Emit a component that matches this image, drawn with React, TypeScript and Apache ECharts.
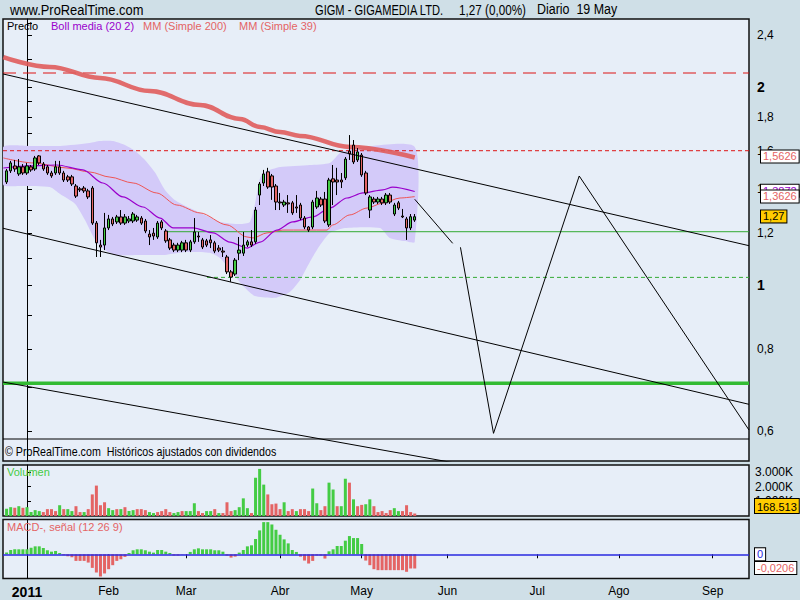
import React, { useEffect, useRef } from 'react';
import * as echarts from 'echarts';

// ---------- DATA ----------
const FIRST_INDEX = -5; // 27 Dec 2010, index 0 = 3 Jan 2011 (trading days)
// [open, close, low, high]
const candles: number[][] = [
  [1.434,1.491,1.424,1.501],[1.491,1.533,1.480,1.544],[1.517,1.501,1.486,1.549],[1.475,1.512,1.465,1.554],[1.512,1.480,1.470,1.527],
  [1.480,1.517,1.470,1.533],[1.512,1.496,1.486,1.522],[1.501,1.560,1.491,1.571],[1.571,1.533,1.522,1.576],[1.527,1.501,1.491,1.538],
  [1.512,1.480,1.470,1.522],[1.480,1.465,1.455,1.491],[1.480,1.512,1.470,1.544],[1.512,1.480,1.470,1.544],[1.480,1.444,1.434,1.491],
  [1.460,1.444,1.434,1.470],[1.460,1.424,1.414,1.470],[1.414,1.365,1.356,1.424],[1.400,1.395,1.385,1.409],[1.404,1.390,1.380,1.414],
  [1.390,1.361,1.351,1.400],[1.404,1.242,1.234,1.414],[1.242,1.159,1.103,1.251],[1.150,1.142,1.103,1.171],[1.150,1.221,1.130,1.287],
  [1.221,1.260,1.212,1.278],[1.260,1.238,1.229,1.269],[1.247,1.269,1.238,1.278],[1.269,1.242,1.234,1.300],[1.242,1.269,1.234,1.282],
  [1.251,1.260,1.242,1.273],[1.251,1.282,1.242,1.291],[1.255,1.269,1.247,1.278],[1.264,1.242,1.234,1.273],[1.251,1.208,1.199,1.260],
  [1.195,1.183,1.150,1.212],[1.199,1.187,1.171,1.221],[1.183,1.242,1.175,1.251],[1.247,1.221,1.212,1.255],[1.208,1.167,1.159,1.216],
  [1.171,1.138,1.130,1.179],[1.150,1.130,1.122,1.159],[1.130,1.150,1.122,1.159],[1.130,1.159,1.122,1.167],[1.159,1.130,1.122,1.171],
  [1.130,1.163,1.122,1.171],[1.163,1.204,1.155,1.264],[1.187,1.183,1.163,1.204],[1.171,1.142,1.134,1.179],[1.167,1.150,1.142,1.175],
  [1.171,1.159,1.138,1.191],[1.159,1.126,1.118,1.167],[1.138,1.130,1.122,1.150],[1.126,1.122,1.103,1.142],[1.103,1.047,1.039,1.111],
  [1.047,1.028,1.011,1.054],[1.039,1.091,1.032,1.099],[1.118,1.130,1.091,1.183],[1.118,1.150,1.107,1.204],[1.150,1.163,1.142,1.171],
  [1.163,1.150,1.142,1.212],[1.163,1.300,1.155,1.314],[1.370,1.424,1.323,1.434],[1.429,1.475,1.414,1.496],[1.486,1.409,1.400,1.507],
  [1.465,1.409,1.347,1.475],[1.414,1.337,1.300,1.424],[1.337,1.333,1.300,1.380],[1.323,1.337,1.314,1.347],[1.333,1.328,1.287,1.370],
  [1.333,1.287,1.278,1.342],[1.314,1.309,1.287,1.370],[1.323,1.264,1.255,1.333],[1.264,1.225,1.216,1.273],[1.225,1.212,1.204,1.229],
  [1.225,1.337,1.216,1.347],[1.314,1.356,1.305,1.390],[1.351,1.323,1.314,1.361],[1.351,1.251,1.242,1.385],[1.234,1.444,1.225,1.455],
  [1.450,1.434,1.323,1.522],[1.444,1.434,1.370,1.507],[1.444,1.434,1.404,1.480],[1.455,1.554,1.444,1.565],[1.598,1.582,1.549,1.690],
  [1.632,1.538,1.527,1.661],[1.549,1.593,1.538,1.615],[1.576,1.470,1.460,1.587],[1.480,1.380,1.370,1.491],[1.300,1.361,1.264,1.370],
  [1.351,1.337,1.328,1.361],[1.337,1.351,1.328,1.361],[1.351,1.333,1.323,1.361],[1.333,1.370,1.323,1.380],[1.370,1.337,1.328,1.380],
  [1.282,1.323,1.273,1.333],[1.333,1.309,1.300,1.342],[1.273,1.269,1.264,1.305],[1.260,1.221,1.171,1.269],[1.221,1.270,1.212,1.282],
  [1.255,1.270,1.247,1.282],
];

// volume in thousands
const volumes: number[] = [
  489,600,556,667,556,600,267,400,333,267,467,467,333,733,467,467,333,667,267,267,
  467,1467,2067,733,933,533,400,467,467,600,333,400,467,467,400,267,200,267,333,467,
  267,200,267,333,333,333,867,333,200,333,333,467,200,200,933,333,400,600,1200,533,
  200,2600,3200,2133,1467,800,844,467,933,333,467,333,467,467,333,1867,867,400,667,2267,
  1800,667,667,2533,2267,1133,667,756,800,1133,667,267,333,200,400,533,333,333,733,267,
  168.513,
];
const volumeColors = 'ggrgrggggrrrrgrggrrgrrrrrggrgrggrrrggrrrrggrgggrrggrgrrrggggrgggrrrrgrrgrrrggrrggrggrgrrggrrrrrgg';

const macdHist: number[] = [
  0.0024,0.0062,0.0072,0.0072,0.0072,0.0072,0.0096,0.0115,0.0115,0.0091,0.0058,0.0038,0.0048,0.0019,-0.0014,-0.0029,-0.0043,-0.0096,-0.0096,-0.0096,
  -0.012,-0.0197,-0.0264,-0.0322,-0.0278,-0.0216,-0.0158,-0.0096,-0.0072,-0.0038,0.0019,0.0058,0.0072,0.0072,0.0058,0.0038,0.0024,0.0062,0.0062,0.0038,
  0.0019,-0.0019,-0.0019,-0.0005,-0.0005,0.0034,0.0072,0.0086,0.0072,0.0072,0.0072,0.0058,0.0058,0.0038,-0.0019,-0.0048,-0.0034,0.0024,0.0062,0.0115,
  0.013,0.0221,0.0346,0.0466,0.0466,0.0432,0.0355,0.0283,0.0216,0.0158,0.0062,0.0034,-0.0034,-0.0091,-0.0134,-0.0096,-0.0019,-0.0019,-0.0062,0.0043,
  0.0072,0.012,0.012,0.0197,0.0264,0.0235,0.0235,0.0149,-0.0091,-0.0158,-0.0216,-0.023,-0.023,-0.023,-0.023,-0.023,-0.023,-0.023,-0.0254,-0.0206,
  -0.0206,
];

// indicator lines as [tradingDayIndex, price]
const upperBand: number[][] = [
  [-5.8,1.621],[0.7,1.627],[8.1,1.627],[15.4,1.644],[17.9,1.655],[21.1,1.655],[24,1.632],[26.5,1.598],[28.9,1.549],[31.3,1.485],
  [33.8,1.395],[36.2,1.347],[39.9,1.309],[44.1,1.273],[47.3,1.247],[52.2,1.238],[54.6,1.247],[55.8,1.323],[57.1,1.454],[58.3,1.485],
  [62,1.511],[69.3,1.522],[74.2,1.533],[76.7,1.587],[79.1,1.610],[95,1.621],
];
const lowerBand: number[][] = [
  [-5.8,1.419],[-1.7,1.414],[5.6,1.409],[8.1,1.375],[11.8,1.328],[14.2,1.255],[16.7,1.171],[19.1,1.130],[21.6,1.111],[27.7,1.111],
  [33.8,1.111],[38.7,1.122],[44.8,1.119],[47.3,1.099],[49.7,1.054],[53.4,0.990],[55.8,0.962],[60.7,0.956],[64.4,0.976],[66.9,1.018],
  [69.3,1.084],[71.8,1.150],[74.2,1.200],[77.9,1.221],[86.5,1.221],[88.9,1.179],[92.6,1.166],[95,1.162],
];
const bollMid: number[][] = [
  [-5.8,1.506],[0.7,1.517],[7.3,1.522],[13.7,1.496],[18.6,1.429],[23.5,1.361],[28.4,1.314],[32.6,1.264],[35.8,1.221],[40.7,1.221],
  [45.6,1.200],[49.7,1.162],[53.9,1.138],[57.1,1.162],[61.2,1.212],[65.1,1.247],[70,1.269],[74.2,1.309],[78.4,1.356],[82.3,1.380],
  [87.2,1.395],[89.6,1.409],[95,1.387],
];
const mm39: number[][] = [
  [-5.8,1.560],[1.5,1.533],[9.8,1.506],[15.4,1.485],[20.3,1.459],[26,1.429],[31.8,1.380],[36.7,1.323],[42.4,1.287],[49,1.234],
  [53.9,1.183],[55.4,1.179],[58.8,1.200],[62.7,1.212],[73.5,1.212],[74.9,1.234],[79.1,1.278],[83.3,1.309],[87.2,1.332],[91.4,1.356],
  [95,1.3626],
];
const mm200: number[][] = [
  [-5.8,2.221],[5.6,2.145],[17.9,2.064],[30.1,1.972],[42.4,1.878],[52.2,1.788],[57.1,1.738],[62,1.708],[66.9,1.685],[79.1,1.621],[95,1.5626],
];

// drawn objects (trend channel, projection, levels) as [tradingDayIndex, price]
const channelUpper = [[-5.88,2.093],[176.9,1.1475]];
const channelMiddle = [[-5.88,1.2196],[176.9,0.6586]];
const channelLower = [[-5.88,0.712],[176.9,0.446]];
const projectionA = [[95,1.350],[104.3,1.157]];
const projectionB = [[106.2,1.141],[114.3,0.595],[135.3,1.4645],[176.9,0.602]];
const levelRedLong = [[-5.88,2.1],[176.9,2.1]];
const levelRedDotted = [[-5.88,1.6],[176.9,1.6]];
const levelGreenSolid = [[33.8,1.205],[176.9,1.205]];
const levelGreenDashed = [[44.1,1.027],[176.9,1.027]];
const levelGreenThick = [[-5.88,0.709],[176.9,0.709]];

const monthTicks = [0,20,39,62,82,103,125,145,168];
const monthLabels = ['2011','Feb','Mar','Abr','May','Jun','Jul','Ago','Sep'];
const priceTicks = [2.5,2.4,2.2,2,1.9,1.8,1.7,1.6,1.5,1.4,1.3,1.2,1.1,1,0.9,0.8,0.7,0.6];
const priceLabels = [2.4,2,1.8,1.6,1.4,1.2,1,0.8,0.6];
const volumeTicks = [1000,2000,3000];

const lastValues = { mm200: 1.5626, boll: 1.3872, mm39: 1.3626, close: 1.27, volume: '168.513', macd: -0.0206 };

// ---------- CHART ----------
const X_MIN = -5.88;
const X_MAX = 176.9;
const L = Math.log;
const GREEN = '#44cc44';
const RED = '#e46464';
const PANEL = '#e7eef8';
const OUTER = '#cfdfe7';
const FONT = 'Liberation Sans, Arial, sans-serif';

function fmtComma(v: number, d: number) {
  return v.toFixed(d).replace('.', ',');
}

export default function App() {
  const ref = useRef<HTMLDivElement>(null);
  useEffect(() => {
    if (!ref.current) return;
    const chart = echarts.init(ref.current, undefined, { renderer: 'svg' });

    const lineS = (data: number[][], color: string, width: number, type: any = 'solid', z = 3, opacity = 1, smooth: any = false) => ({
      type: 'line', xAxisIndex: 0, yAxisIndex: 0, symbol: 'none', silent: true, clip: true, z, smooth,
      smoothMonotone: 'x',
      data: data.map(([x, p]) => [x, L(p)]),
      lineStyle: { color, width, type, opacity },
    });

    const boxLabel = (text: string, color: string, bg = '#ffffff', distance = 12) => ({
      show: true, position: 'end', distance, formatter: text, color,
      backgroundColor: bg, borderColor: '#000', borderWidth: 1, padding: [1, 2, 0, 2],
      fontSize: 11, fontFamily: FONT,
    });

    const txt = (x: number, y: number, text: string, fill: string, size: number, sx = 1) => ({
      type: 'text', x, y, scaleX: sx, z: 50,
      style: { text, fill, font: size + 'px ' + FONT, textVerticalAlign: 'top' },
    });

    const option: any = {
      animation: false,
      backgroundColor: OUTER,
      grid: [
        { left: 3, top: 19, width: 746, height: 442, show: true, backgroundColor: PANEL, borderColor: '#111', borderWidth: 1.5, outerBoundsMode: 'none' },
        { left: 3, top: 465, width: 746, height: 51, show: true, backgroundColor: PANEL, borderColor: '#111', borderWidth: 1.5, outerBoundsMode: 'none' },
        { left: 3, top: 519.5, width: 746, height: 59, show: true, backgroundColor: PANEL, borderColor: '#111', borderWidth: 1.5, outerBoundsMode: 'none' },
      ],
      xAxis: [0, 1, 2].map((g) => ({
        type: 'value', gridIndex: g, min: X_MIN, max: X_MAX,
        axisLine: { show: false }, splitLine: { show: false },
        axisTick: g === 2 ? { show: true, length: 4, lineStyle: { color: '#000' }, customValues: monthTicks } : { show: false },
        axisLabel: g === 2 ? {
          show: true, margin: 6, customValues: monthTicks, color: '#000', fontFamily: FONT, fontSize: 12,
          formatter: (v: number) => {
            const k = monthTicks.indexOf(Math.round(v));
            if (k < 0) return '';
            return k === 0 ? '{b|' + monthLabels[k] + '}' : monthLabels[k];
          },
          rich: { b: { fontWeight: 'bold', fontSize: 14, fontFamily: FONT, color: '#000' } },
        } : { show: false },
      })),
      yAxis: [
        {
          type: 'value', gridIndex: 0, position: 'right', min: L(0.5401), max: L(2.537),
          axisLine: { show: true, lineStyle: { color: '#000', width: 1 } },
          splitLine: { show: false },
          axisTick: { show: true, length: 5, customValues: priceTicks.map(L), lineStyle: { color: '#000' } },
          axisLabel: {
            show: true, margin: 8, customValues: priceLabels.map(L), color: '#000', fontSize: 12, fontFamily: FONT,
            formatter: (v: number) => {
              const p = Math.round(Math.exp(v) * 10) / 10;
              if (p === 2 || p === 1) return '{b|' + p + '}';
              return fmtComma(p, 1);
            },
            rich: { b: { fontWeight: 'bold', fontSize: 14, fontFamily: FONT, color: '#000' } },
          },
        },
        {
          type: 'value', gridIndex: 1, position: 'right', min: 0, max: 3466.7,
          axisLine: { show: true, lineStyle: { color: '#000' } }, splitLine: { show: false },
          axisTick: { show: true, length: 4, customValues: volumeTicks, lineStyle: { color: '#000' } },
          axisLabel: {
            show: true, margin: 6, customValues: volumeTicks, color: '#000', fontSize: 12, fontFamily: FONT,
            formatter: (v: number) => (v / 1000).toFixed(0) + '.000K',
          },
        },
        {
          type: 'value', gridIndex: 2, position: 'right', min: -0.0351, max: 0.0504,
          axisLine: { show: true, lineStyle: { color: '#000' } }, splitLine: { show: false },
          axisTick: { show: false }, axisLabel: { show: false },
        },
      ],
      series: [
        {
          type: 'custom', xAxisIndex: 0, yAxisIndex: 0, silent: true, clip: true, z: 1,
          data: [[0, 0]],
          renderItem: (params: any, api: any) => {
            const pts = upperBand.map((d) => api.coord([d[0], L(d[1])]))
              .concat(lowerBand.slice().reverse().map((d) => api.coord([d[0], L(d[1])])));
            return { type: 'polygon', shape: { points: pts, smooth: 0.2 }, style: { fill: '#d3caf9' } };
          },
        },
        lineS(levelRedLong, '#dd1515', 1, [13, 7], 2),
        lineS(levelRedDotted, '#dd1515', 1, [4, 3], 2),
        lineS(levelGreenSolid, '#33aa33', 1, 'solid', 2),
        lineS(levelGreenDashed, '#33aa33', 1, [4, 3], 2),
        lineS(levelGreenThick, '#33bb33', 3.5, 'solid', 2),
        lineS(mm200, '#e05c5c', 4.5, 'solid', 3, 0.9, 0.4),
        lineS(mm39, '#ee5555', 1, 'solid', 3, 1, 0.3),
        lineS(bollMid, '#9a00cc', 1.2, 'solid', 3, 1, 0.3),
        {
          type: 'candlestick', xAxisIndex: 0, yAxisIndex: 0, z: 4, barWidth: 3,
          encode: { x: 0, y: [1, 2, 3, 4] },
          data: candles.map((c, k) => [FIRST_INDEX + k, L(c[0]), L(c[1]), L(c[2]), L(c[3])]),
          itemStyle: { color: GREEN, color0: RED, borderColor: '#000', borderColor0: '#000', borderColorDoji: '#000', borderWidth: 1 },
          markLine: {
            symbol: ['none', 'none'], silent: true,
            lineStyle: { width: 0 },
            data: [
              { yAxis: L(lastValues.boll), label: boxLabel(fmtComma(lastValues.boll, 4), '#9a00cc') },
              { yAxis: L(lastValues.mm200), label: boxLabel(fmtComma(lastValues.mm200, 4), RED) },
              { yAxis: L(lastValues.mm39), label: boxLabel(fmtComma(lastValues.mm39, 4), RED) },
              { yAxis: L(lastValues.close), label: boxLabel(fmtComma(lastValues.close, 2), '#000', '#ffcc00') },
            ],
          },
        },
        lineS(channelUpper, '#000', 1, 'solid', 5),
        lineS(channelMiddle, '#000', 1, 'solid', 5),
        lineS(channelLower, '#000', 1, 'solid', 5),
        lineS(projectionA, '#000', 1, 'solid', 5),
        lineS(projectionB, '#000', 1, 'solid', 5),
        {
          type: 'bar', xAxisIndex: 1, yAxisIndex: 1, barWidth: 3, silent: true,
          data: volumes.map((v, k) => ({ value: [FIRST_INDEX + k, v], itemStyle: { color: volumeColors[k] === 'g' ? GREEN : RED } })),
        },
        {
          type: 'bar', xAxisIndex: 2, yAxisIndex: 2, barWidth: 3, silent: true,
          data: macdHist.map((v, k) => ({ value: [FIRST_INDEX + k, v], itemStyle: { color: v >= 0 ? GREEN : RED } })),
          markLine: {
            symbol: ['none', 'none'], silent: true,
            data: [
              { yAxis: 0, lineStyle: { color: '#2828e0', width: 1.5, type: 'solid' }, label: boxLabel('0', '#2828e0', '#ffffff', 6) },
              { yAxis: lastValues.macd, lineStyle: { width: 0 }, label: boxLabel(fmtComma(lastValues.macd, 4), RED, '#ffffff', 6) },
            ],
          },
        },
      ],
      graphic: [
        txt(10, 2, 'www.ProRealTime.com', '#000', 15, 0.86),
        txt(315, 2, 'GIGM - GIGAMEDIA LTD.', '#000', 15, 0.74),
        txt(459, 2, '1,27 (0,00%)', '#000', 15, 0.78),
        txt(537, 2, 'Diario  19 May', '#000', 15, 0.83),
        txt(7, 20, 'Precio', '#000', 11),
        txt(51, 20, 'Boll media (20 2)', '#9a00cc', 11),
        txt(143, 20, 'MM (Simple 200)', RED, 11),
        txt(239, 20, 'MM (Simple 39)', RED, 11),
        { type: 'line', shape: { x1: 3, y1: 439, x2: 749, y2: 439 }, style: { stroke: '#000', lineWidth: 1 } },
        txt(5, 446, '© ProRealTime.com  Históricos ajustados con dividendos', '#000', 12, 0.89),
        txt(7, 466, 'Volumen', GREEN, 11),
        txt(7, 521, 'MACD-, señal (12 26 9)', RED, 11),
        {
          type: 'text', x: 755, y: 499, z: 100,
          style: { text: lastValues.volume, fill: '#000', font: '11px ' + FONT, textVerticalAlign: 'top', backgroundColor: '#ffcc00', borderColor: '#000', borderWidth: 1, padding: [2, 2, 1, 2] },
        },
      ],
    };
    chart.setOption(option);
    return () => chart.dispose();
  }, []);
  return <div ref={ref} style={{ position: 'fixed', left: 0, top: 0, width: 800, height: 600 }} />;
}
